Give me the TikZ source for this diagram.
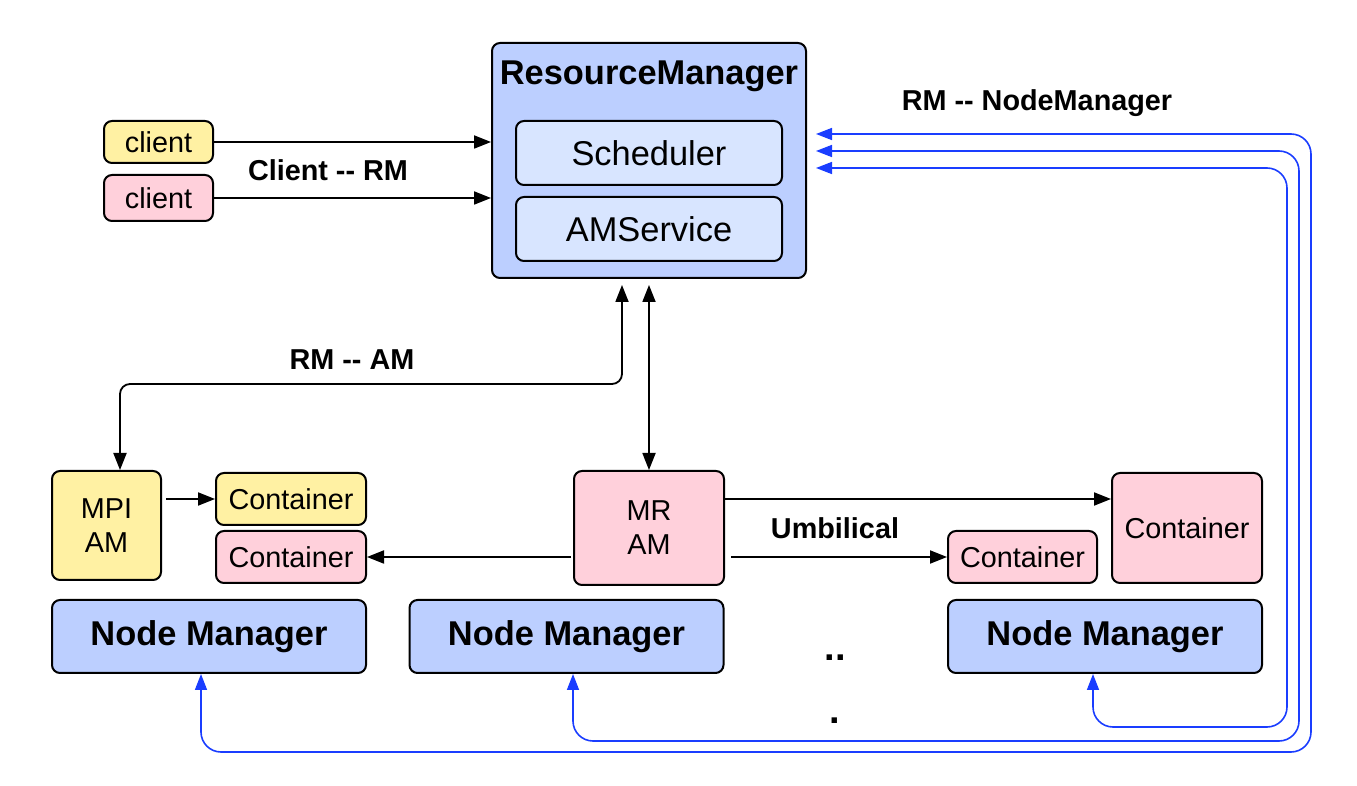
\documentclass[tikz,border=0pt]{standalone}
\usepackage{fontspec}
\setmainfont{Liberation Sans}[Ligatures=TeXOff]
\usepackage{xcolor}
\usepackage{tikz}
\usetikzlibrary{arrows.meta}
\definecolor{RMBlue}{RGB}{188,207,255}
\definecolor{SubBlue}{RGB}{216,229,255}
\definecolor{AMYellow}{RGB}{255,241,163}
\definecolor{AMPink}{RGB}{255,208,219}
\definecolor{LinkBlue}{RGB}{26,61,255}

\begin{document}
\begin{tikzpicture}[x=0.5pt, y=-0.5pt,
  box/.style={draw, line width=1pt, rounded corners=4pt, inner sep=0pt, align=center,
    font=\fontsize{14.4}{17}\selectfont},
  bigbox/.style={box, font=\fontsize{17.2}{20}\selectfont},
  lbl/.style={font=\fontsize{14.4}{17}\selectfont\bfseries},
  tip/.style={Triangle[length=8.5pt,width=6.5pt]},
  arr/.style={line width=0.9pt, -{Triangle[length=8.5pt,width=6.5pt]}},
  dblarr/.style={line width=0.9pt, {Triangle[length=8.5pt,width=6.5pt]}-{Triangle[length=8.5pt,width=6.5pt]},
    rounded corners=5pt},
  nmlink/.style={LinkBlue, line width=0.8pt, {Triangle[length=8pt,width=6pt]}-{Triangle[length=8pt,width=6pt]},
    rounded corners=10pt, shorten <=4.5pt}]
  \useasboundingbox (0,0) rectangle (1357,786);

  % resource manager
  \node[box, fill=RMBlue, minimum width=157pt, minimum height=117.5pt] (rm) at (649,160.5) {};
  \node[font=\fontsize{17.2}{20}\selectfont\bfseries] (rmtitle) at (649,76) {ResourceManager};
  \node[bigbox, fill=SubBlue, minimum width=133pt, minimum height=32pt] (sched) at (649,153) {Scheduler};
  \node[bigbox, fill=SubBlue, minimum width=133pt, minimum height=32pt] (amserv) at (649,229) {AMService};

  % clients
  \node[box, fill=AMYellow, minimum width=54.5pt, minimum height=21pt] (cl1) at (158.5,142) {client};
  \node[box, fill=AMPink, minimum width=54.5pt, minimum height=23pt] (cl2) at (158.5,198) {client};
  \draw[arr] (cl1.east) -- (cl1 -| rm.west);
  \draw[arr] (cl2.east) -- (cl2 -| rm.west);
  \node[lbl] (lclient) at (328,170) {Client -- RM};

  % application masters and containers
  \node[box, fill=AMYellow, minimum width=54.5pt, minimum height=54.5pt] (mpi) at (106.5,525.5) {MPI\\AM};
  \node[box, fill=AMYellow, minimum width=75pt, minimum height=26pt] (cty) at (291,499) {Container};
  \node[box, fill=AMPink, minimum width=75pt, minimum height=26pt] (ctp) at (291,557) {Container};
  \node[box, fill=AMPink, minimum width=75pt, minimum height=57pt] (mr) at (649,528) {MR\\AM};
  \node[box, fill=AMPink, minimum width=74.5pt, minimum height=26pt] (cts) at (1022.5,557) {Container};
  \node[box, fill=AMPink, minimum width=75pt, minimum height=55pt] (ctb) at (1187,528) {Container};

  \draw[arr, shorten <=2pt] (mpi.east |- cty.west) -- (cty.west);
  \draw[arr, shorten <=1pt] (mr.west |- ctp.east) -- (ctp.east);
  \draw[arr] (mr.east |- cty.east) -- (ctb.west |- cty.east);
  \draw[arr, shorten <=3pt] (mr.east |- cts.west) -- (cts.west);
  \node[lbl] (lumb) at (835,528) {Umbilical};

  % rm -- am
  \draw[dblarr, shorten <=3pt] ([xshift=-13.5pt]rm.south) -- ++(0,105) -| ([xshift=6.75pt]mpi.north);
  \draw[dblarr, shorten <=3pt] (rm.south) -- (mr.north);
  \node[lbl] (lam) at (352,360) {RM -- AM};

  % node managers
  \node[bigbox, fill=RMBlue, minimum width=157pt, minimum height=36.5pt, font=\fontsize{17.2}{20}\selectfont\bfseries] (nm1) at (209,636.5) {Node Manager};
  \node[bigbox, fill=RMBlue, minimum width=157pt, minimum height=36.5pt, font=\fontsize{17.2}{20}\selectfont\bfseries] (nm2) at (566.5,636.5) {Node Manager};
  \node[bigbox, fill=RMBlue, minimum width=157pt, minimum height=36.5pt, font=\fontsize{17.2}{20}\selectfont\bfseries] (nm3) at (1105,636.5) {Node Manager};
  \node[font=\fontsize{19}{22}\selectfont\bfseries] (dots1) at (835,658) {..};
  \node[font=\fontsize{19}{22}\selectfont\bfseries] (dots2) at (835,721) {.};

  % rm -- node manager
  \draw[nmlink] ([yshift=13.25pt]rm.east) -- ++(504,0) |- ([xshift=-4pt,yshift=-39pt]nm1.south) -- ([xshift=-4pt]nm1.south);
  \draw[nmlink] ([yshift=4.75pt]rm.east) -- ++(492,0) |- ([xshift=3.25pt,yshift=-33.5pt]nm2.south) -- ([xshift=3.25pt]nm2.south);
  \draw[nmlink] ([yshift=-3.75pt]rm.east) -- ++(480,0) |- ([xshift=-6pt,yshift=-26.5pt]nm3.south) -- ([xshift=-6pt]nm3.south);
  \node[lbl] (lnm) at (1037,103) {RM -- NodeManager};
\end{tikzpicture}
\end{document}
